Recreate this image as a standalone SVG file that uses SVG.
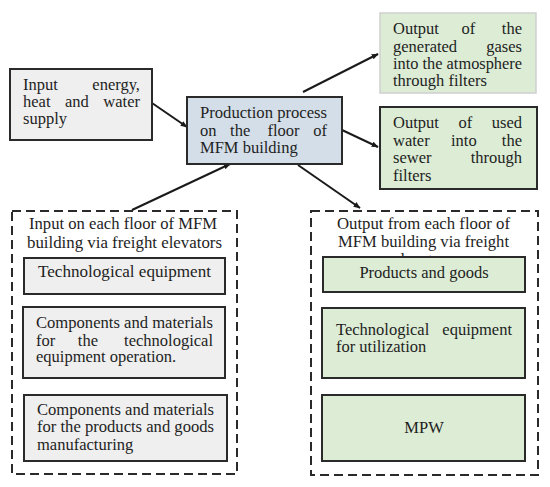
<svg xmlns="http://www.w3.org/2000/svg" width="550" height="487" viewBox="0 0 550 487">
<defs>
<marker id="ah" viewBox="0 0 10 10" refX="9" refY="5" markerWidth="7" markerHeight="7" markerUnits="userSpaceOnUse" orient="auto"><path d="M0,1 L10,5 L0,9 z" fill="#1a1a1a"/></marker>
<style>
.g{fill:#efefef;stroke:#2a2a2a;stroke-width:2}
.b{fill:#d4dee9;stroke:#2a2a2a;stroke-width:2}
.gr{fill:#dcecd5;stroke:#2a2a2a;stroke-width:2}
.grl{fill:#dcecd5;stroke:#cfcfcf;stroke-width:1.5}
.d{fill:#ffffff;stroke:#2a2a2a;stroke-width:2;stroke-dasharray:9 5}
.c{stroke:#1a1a1a;stroke-width:2;fill:none;marker-end:url(#ah)}
</style>
</defs>
<rect width="550" height="487" fill="#ffffff"/>
<g id="connectors">
<line class="c" x1="152" y1="103" x2="187" y2="127"/>
<line class="c" x1="132" y1="210" x2="230" y2="164"/>
<line class="c" x1="303" y1="92" x2="378" y2="54"/>
<line class="c" x1="342" y1="130" x2="378" y2="147"/>
<line class="c" x1="298" y1="165" x2="360" y2="208"/>
</g>
<g font-family="Liberation Serif, DejaVu Serif, serif" font-size="16.5" fill="#1e1e1e">
<g id="input-energy">
<rect class="g" x="10" y="69" width="142" height="71"/>
<text x="23" y="90">Input</text><text x="140" y="90" text-anchor="end">energy,</text>
<text x="23" y="107">heat</text><text x="65" y="107">and</text><text x="140" y="107" text-anchor="end">water</text>
<text x="23" y="124">supply</text>
</g>
<g id="production">
<rect class="b" x="187" y="97" width="155" height="67"/>
<text x="200" y="118" textLength="127" lengthAdjust="spacingAndGlyphs">Production process</text>
<text x="200" y="136">on</text><text x="230.1" y="136">the</text><text x="267.5" y="136">floor</text><text x="327" y="136" text-anchor="end">of</text>
<text x="200" y="153">MFM building</text>
</g>
<g id="output-gases">
<rect class="grl" x="380" y="13" width="156" height="80"/>
<text x="393" y="34">Output</text><text x="461.6" y="34">of</text><text x="522" y="34" text-anchor="end">the</text>
<text x="393" y="52">generated</text><text x="522" y="52" text-anchor="end">gases</text>
<text x="393" y="69" textLength="129" lengthAdjust="spacingAndGlyphs">into the atmosphere</text>
<text x="393" y="86">through filters</text>
</g>
<g id="output-water">
<rect class="gr" x="380" y="107" width="157" height="82"/>
<text x="393" y="128">Output</text><text x="458.4" y="128">of</text><text x="522" y="128" text-anchor="end">used</text>
<text x="393" y="146">water</text><text x="451" y="146">into</text><text x="522" y="146" text-anchor="end">the</text>
<text x="393" y="163">sewer</text><text x="522" y="163" text-anchor="end">through</text>
<text x="393" y="181">filters</text>
</g>
<g id="input-floor">
<rect class="d" x="12" y="211" width="225" height="263"/>
<text x="29" y="229" textLength="188" lengthAdjust="spacingAndGlyphs">Input on each floor of MFM</text>
<text x="27" y="248" textLength="195" lengthAdjust="spacingAndGlyphs">building via freight elevators</text>
</g>
<g id="tech-equipment">
<rect class="g" x="24" y="258" width="201" height="36"/>
<text x="38" y="277" textLength="173" lengthAdjust="spacingAndGlyphs">Technological equipment</text>
</g>
<g id="components-operation">
<rect class="g" x="23" y="307" width="202" height="71"/>
<text x="36" y="328" textLength="177" lengthAdjust="spacingAndGlyphs">Components and materials</text>
<text x="36" y="346">for</text><text x="77.8" y="346">the</text><text x="213" y="346" text-anchor="end">technological</text>
<text x="36" y="362">equipment operation.</text>
</g>
<g id="components-manufacturing">
<rect class="g" x="24" y="395" width="203" height="66"/>
<text x="37" y="415" textLength="177" lengthAdjust="spacingAndGlyphs">Components and materials</text>
<text x="37" y="432" textLength="177" lengthAdjust="spacingAndGlyphs">for the products and goods</text>
<text x="37" y="450">manufacturing</text>
</g>
<g id="output-floor">
<rect class="d" x="311" y="211" width="227" height="264"/>
<text x="337" y="229" textLength="173" lengthAdjust="spacingAndGlyphs">Output from each floor of</text>
<text x="338" y="247" textLength="171" lengthAdjust="spacingAndGlyphs">MFM building via freight</text>
<text x="423" y="265" text-anchor="middle">elevators</text>
</g>
<g id="products-goods">
<rect class="gr" x="323" y="257" width="202" height="35"/>
<text x="424" y="278" text-anchor="middle">Products and goods</text>
</g>
<g id="tech-utilization">
<rect class="gr" x="322" y="308" width="203" height="70"/>
<text x="336" y="335">Technological</text><text x="512" y="335" text-anchor="end">equipment</text>
<text x="336" y="352">for utilization</text>
</g>
<g id="mpw">
<rect class="gr" x="322" y="395" width="203" height="66"/>
<text x="424" y="433" text-anchor="middle">MPW</text>
</g>
</g>
</svg>
